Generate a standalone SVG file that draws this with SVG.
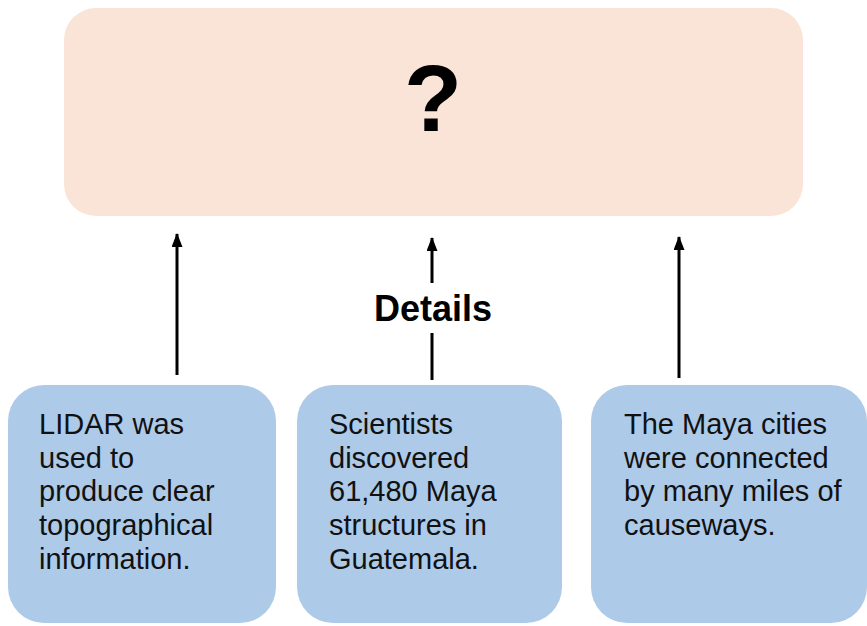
<svg xmlns="http://www.w3.org/2000/svg" width="867" height="626" viewBox="0 0 867 626">
  <style>
    .top { fill: #fae4d7; }
    .det { fill: #adcae9; }
    .body { font-family: "Liberation Sans", Arial, sans-serif; font-size: 29px; fill: #111; }
    .bold { font-family: "Liberation Sans", Arial, sans-serif; font-weight: bold; fill: #000; }
    .conn { stroke: #000; stroke-width: 3; fill: none; }
  </style>
  <defs>
    <marker id="arrow" markerWidth="14" markerHeight="11" refX="13" refY="5.5" orient="auto" markerUnits="userSpaceOnUse" viewBox="0 0 14 11">
      <path d="M0,0 L14,5.5 L0,11 Z" fill="#000"/>
    </marker>
  </defs>
  <rect width="867" height="626" fill="#ffffff"/>

  <g id="main-idea">
    <rect class="top" x="64" y="8" width="739" height="208" rx="32" ry="32"/>
    <text class="bold" x="433" y="131" font-size="95" text-anchor="middle">?</text>
  </g>

  <g id="connectors">
    <line class="conn" x1="177" y1="375" x2="177" y2="234" marker-end="url(#arrow)"/>
    <line class="conn" x1="432" y1="283" x2="432" y2="238" marker-end="url(#arrow)"/>
    <line class="conn" x1="432" y1="380" x2="432" y2="333"/>
    <line class="conn" x1="679" y1="378" x2="679" y2="237" marker-end="url(#arrow)"/>
    <text class="bold" x="433" y="321" font-size="36" text-anchor="middle">Details</text>
  </g>

  <g id="detail-1">
    <rect class="det" x="8" y="385" width="268" height="238" rx="36" ry="36"/>
    <text class="body">
      <tspan x="39" y="434">LIDAR was</tspan>
      <tspan x="39" y="468">used to</tspan>
      <tspan x="39" y="501">produce clear</tspan>
      <tspan x="39" y="535">topographical</tspan>
      <tspan x="39" y="569">information.</tspan>
    </text>
  </g>

  <g id="detail-2">
    <rect class="det" x="297" y="385" width="265" height="238" rx="36" ry="36"/>
    <text class="body">
      <tspan x="329" y="434">Scientists</tspan>
      <tspan x="329" y="468">discovered</tspan>
      <tspan x="329" y="501">61,480 Maya</tspan>
      <tspan x="329" y="535">structures in</tspan>
      <tspan x="329" y="569">Guatemala.</tspan>
    </text>
  </g>

  <g id="detail-3">
    <rect class="det" x="591" y="385" width="276" height="238" rx="36" ry="36"/>
    <text class="body">
      <tspan x="624" y="434">The Maya cities</tspan>
      <tspan x="624" y="468">were connected</tspan>
      <tspan x="624" y="501">by many miles of</tspan>
      <tspan x="624" y="535">causeways.</tspan>
    </text>
  </g>
</svg>
